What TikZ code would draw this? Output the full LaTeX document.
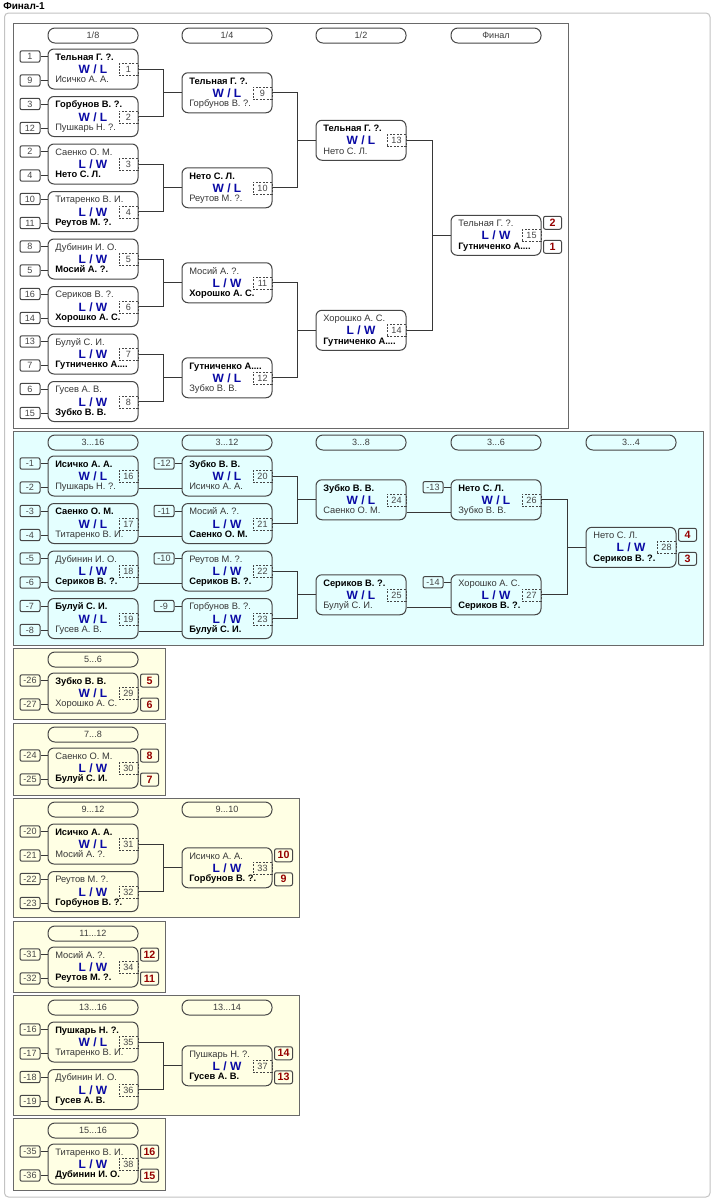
\documentclass[tikz,border=0pt]{standalone}
\usepackage{fontspec}
\setmainfont{Liberation Sans}
\usetikzlibrary{calc}
\definecolor{frm}{RGB}{195,195,195}
\definecolor{grpline}{RGB}{105,105,105}
\definecolor{boxline}{RGB}{70,70,70}
\definecolor{connline}{RGB}{55,55,55}
\definecolor{wintext}{RGB}{0,0,0}
\definecolor{losetext}{RGB}{55,55,55}
\definecolor{wlblue}{RGB}{10,10,165}
\definecolor{numgray}{RGB}{70,70,70}
\definecolor{medalred}{RGB}{150,0,0}
\definecolor{headtext}{RGB}{60,60,60}
\definecolor{cyanbg}{RGB}{228,255,255}
\definecolor{yellowbg}{RGB}{255,255,228}
\newcommand\winf{\bfseries\color{wintext}}
\newcommand\losef{\color{losetext}}
% #1 id, #2 left x, #3 top y, #4 winner (1 top, 2 bottom), #5 top name, #6 bottom name, #7 number
\newcommand\matchbox[7]{%
  \ifnum#4=1 \def\fa{\winf}\def\fb{\losef}\def\wl{W / L}\else\def\fa{\losef}\def\fb{\winf}\def\wl{L / W}\fi
  \node[matchnode] (m#1) at ({#2+45},{#3+20}) {};
  \node[namenode] (m#1t) at ({#2+7},{#3+9}) {\fa #5};
  \node[namenode] (m#1b) at ({#2+7},{#3+31.5}) {\fb #6};
  \node[wlnode] (m#1w) at ({#2+45},{#3+20.5}) {\wl};
  \node[numnode] (m#1k) at ({#2+80.5},{#3+20.5}) {#7};
}
% #1 seed id, #2 match id, #3 y offset, #4 text
\newcommand\seedbox[4]{%
  \node[seednode] (#1) at ($(m#2.north west)+(-17.5,#3)$) {#4};
  \draw[conn] (#1.east) -- (#1.east -| m#2.west);
}
\newcommand\medal[4]{%
  \node[medalnode] (#1) at ($(m#2.north east)+(11,#3)$) {#4};
}
\newcommand\hdr[4]{%
  \node[headnode] (#1) at ({#2+45},{#3+7.5}) {#4};
}
\newcommand\joinm[3]{%
  \coordinate (j#3) at ($(m#3.west)+(-18,0)$);
  \draw[conn] (m#1.east) -| (j#3) |- (m#2.east);
  \draw[conn] (j#3) -- (m#3.west);
}
\newcommand\straight[2]{%
  \draw[conn] ($(m#1.south east)+(0,-8)$) -- ($(m#2.south west)+(0,-8)$);
}
\begin{document}
\begin{tikzpicture}[x=0.75pt,y=-0.75pt,
  matchnode/.style={draw=boxline, line width=0.75pt, rounded corners=4.5pt, minimum width=67.5pt, minimum height=30pt, inner sep=0pt},
  namenode/.style={anchor=west, inner sep=0pt, font=\fontsize{7pt}{7pt}\selectfont, text height=5pt, text depth=1.4pt},
  wlnode/.style={inner sep=0pt, font=\fontsize{9pt}{9pt}\selectfont\bfseries, text=wlblue},
  numnode/.style={draw=boxline, line width=0.6pt, dash pattern=on 1.5pt off 1.1pt, minimum width=14.25pt, minimum height=9pt, inner sep=0pt, font=\fontsize{6.8pt}{7pt}\selectfont, text=numgray},
  seednode/.style={draw=boxline, line width=0.75pt, rounded corners=1.5pt, minimum width=15pt, minimum height=8.6pt, inner sep=0pt, font=\fontsize{6.8pt}{7pt}\selectfont, text=numgray},
  medalnode/.style={draw=boxline, line width=0.75pt, rounded corners=1.5pt, minimum width=13.5pt, minimum height=9.75pt, inner sep=0pt, font=\fontsize{8pt}{8pt}\selectfont\bfseries, text=medalred},
  headnode/.style={draw=boxline, line width=0.75pt, rounded corners=5.2pt, minimum width=67.5pt, minimum height=11.25pt, inner sep=0pt, font=\fontsize{6.8pt}{7pt}\selectfont, text=headtext},
  conn/.style={draw=connline, line width=0.75pt},
  grp/.style={draw=grpline, line width=0.75pt}]
\useasboundingbox (0,0) rectangle (714,1200);
\fill[white] (0,0) rectangle (714,1200);
\draw[draw=frm, line width=0.75pt, rounded corners=3pt] (4.5,13) rectangle (710,1197);
\node[anchor=west, inner sep=0pt, font=\fontsize{7.5pt}{8pt}\selectfont\bfseries] (title) at (3,6) {Финал-1};
% group boxes
\draw[grp, fill=white] (13,23) rectangle (568,428);
\draw[grp, fill=cyanbg] (13,431) rectangle (703,645);
\draw[grp, fill=yellowbg] (13,648) rectangle (165,719);
\draw[grp, fill=yellowbg] (13,723) rectangle (165,795);
\draw[grp, fill=yellowbg] (13,798) rectangle (299,917);
\draw[grp, fill=yellowbg] (13,921) rectangle (165,992);
\draw[grp, fill=yellowbg] (13,995) rectangle (299,1115);
\draw[grp, fill=yellowbg] (13,1118) rectangle (165,1190);
% headers
\hdr{h1}{48}{28}{1/8}
\hdr{h2}{182}{28}{1/4}
\hdr{h3}{316}{28}{1/2}
\hdr{h4}{451}{28}{Финал}
\hdr{h5}{48}{435}{3...16}
\hdr{h6}{182}{435}{3...12}
\hdr{h7}{316}{435}{3...8}
\hdr{h8}{451}{435}{3...6}
\hdr{h9}{586}{435}{3...4}
\hdr{h10}{48}{652}{5...6}
\hdr{h11}{48}{727}{7...8}
\hdr{h12}{48}{802}{9...12}
\hdr{h13}{182}{802}{9...10}
\hdr{h14}{48}{926}{11...12}
\hdr{h15}{48}{1000}{13...16}
\hdr{h16}{182}{1000}{13...14}
\hdr{h17}{48}{1123}{15...16}
% main bracket
\matchbox{1}{48}{49}{1}{Тельная Г. ?.}{Исичко А. А.}{1}
\matchbox{2}{48}{96.5}{1}{Горбунов В. ?.}{Пушкарь Н. ?.}{2}
\matchbox{3}{48}{144}{2}{Саенко О. М.}{Нето С. Л.}{3}
\matchbox{4}{48}{191.5}{2}{Титаренко В. И.}{Реутов М. ?.}{4}
\matchbox{5}{48}{239}{2}{Дубинин И. О.}{Мосий А. ?.}{5}
\matchbox{6}{48}{286.5}{2}{Сериков В. ?.}{Хорошко А. С.}{6}
\matchbox{7}{48}{334}{2}{Булуй С. И.}{Гутниченко А....}{7}
\matchbox{8}{48}{381.5}{2}{Гусев А. В.}{Зубко В. В.}{8}
\matchbox{9}{182}{72.75}{1}{Тельная Г. ?.}{Горбунов В. ?.}{9}
\matchbox{10}{182}{167.75}{1}{Нето С. Л.}{Реутов М. ?.}{10}
\matchbox{11}{182}{262.75}{2}{Мосий А. ?.}{Хорошко А. С.}{11}
\matchbox{12}{182}{357.75}{1}{Гутниченко А....}{Зубко В. В.}{12}
\matchbox{13}{316}{120.25}{1}{Тельная Г. ?.}{Нето С. Л.}{13}
\matchbox{14}{316}{310.25}{2}{Хорошко А. С.}{Гутниченко А....}{14}
\matchbox{15}{451}{215.25}{2}{Тельная Г. ?.}{Гутниченко А....}{15}
\seedbox{s1}{1}{8}{1}\seedbox{s9}{1}{32}{9}
\seedbox{s3}{2}{8}{3}\seedbox{s12}{2}{32}{12}
\seedbox{s2}{3}{8}{2}\seedbox{s4}{3}{32}{4}
\seedbox{s10}{4}{8}{10}\seedbox{s11}{4}{32}{11}
\seedbox{s8}{5}{8}{8}\seedbox{s5}{5}{32}{5}
\seedbox{s16}{6}{8}{16}\seedbox{s14}{6}{32}{14}
\seedbox{s13}{7}{8}{13}\seedbox{s7}{7}{32}{7}
\seedbox{s6}{8}{8}{6}\seedbox{s15}{8}{32}{15}
\joinm{1}{2}{9}
\joinm{3}{4}{10}
\joinm{5}{6}{11}
\joinm{7}{8}{12}
\joinm{9}{10}{13}
\joinm{11}{12}{14}
\joinm{13}{14}{15}
\medal{p2}{15}{8}{2}
\medal{p1}{15}{32}{1}
% consolation
\matchbox{16}{48}{456}{1}{Исичко А. А.}{Пушкарь Н. ?.}{16}
\matchbox{17}{48}{503.5}{1}{Саенко О. М.}{Титаренко В. И.}{17}
\matchbox{18}{48}{551}{2}{Дубинин И. О.}{Сериков В. ?.}{18}
\matchbox{19}{48}{598.5}{1}{Булуй С. И.}{Гусев А. В.}{19}
\matchbox{20}{182}{456}{1}{Зубко В. В.}{Исичко А. А.}{20}
\matchbox{21}{182}{503.5}{2}{Мосий А. ?.}{Саенко О. М.}{21}
\matchbox{22}{182}{551}{2}{Реутов М. ?.}{Сериков В. ?.}{22}
\matchbox{23}{182}{598.5}{2}{Горбунов В. ?.}{Булуй С. И.}{23}
\matchbox{24}{316}{479.75}{1}{Зубко В. В.}{Саенко О. М.}{24}
\matchbox{25}{316}{574.75}{1}{Сериков В. ?.}{Булуй С. И.}{25}
\matchbox{26}{451}{479.75}{1}{Нето С. Л.}{Зубко В. В.}{26}
\matchbox{27}{451}{574.75}{2}{Хорошко А. С.}{Сериков В. ?.}{27}
\matchbox{28}{586}{527.25}{2}{Нето С. Л.}{Сериков В. ?.}{28}
\seedbox{c1}{16}{8}{-1}\seedbox{c2}{16}{32}{-2}
\seedbox{c3}{17}{8}{-3}\seedbox{c4}{17}{32}{-4}
\seedbox{c5}{18}{8}{-5}\seedbox{c6}{18}{32}{-6}
\seedbox{c7}{19}{8}{-7}\seedbox{c8}{19}{32}{-8}
\seedbox{c12}{20}{8}{-12}
\seedbox{c11}{21}{8}{-11}
\seedbox{c10}{22}{8}{-10}
\seedbox{c9}{23}{8}{-9}
\seedbox{c13}{26}{8}{-13}
\seedbox{c14}{27}{8}{-14}
\straight{16}{20}
\straight{17}{21}
\straight{18}{22}
\straight{19}{23}
\straight{24}{26}
\straight{25}{27}
\joinm{20}{21}{24}
\joinm{22}{23}{25}
\joinm{26}{27}{28}
\medal{p4}{28}{8}{4}
\medal{p3}{28}{32}{3}
% 5...6
\matchbox{29}{48}{673}{1}{Зубко В. В.}{Хорошко А. С.}{29}
\seedbox{c26}{29}{8}{-26}\seedbox{c27}{29}{32}{-27}
\medal{p5}{29}{8}{5}\medal{p6}{29}{32}{6}
% 7...8
\matchbox{30}{48}{748}{2}{Саенко О. М.}{Булуй С. И.}{30}
\seedbox{c24}{30}{8}{-24}\seedbox{c25}{30}{32}{-25}
\medal{p8}{30}{8}{8}\medal{p7}{30}{32}{7}
% 9...12
\matchbox{31}{48}{824}{1}{Исичко А. А.}{Мосий А. ?.}{31}
\matchbox{32}{48}{871.5}{2}{Реутов М. ?.}{Горбунов В. ?.}{32}
\matchbox{33}{182}{847.75}{2}{Исичко А. А.}{Горбунов В. ?.}{33}
\seedbox{c20}{31}{8}{-20}\seedbox{c21}{31}{32}{-21}
\seedbox{c22}{32}{8}{-22}\seedbox{c23}{32}{32}{-23}
\joinm{31}{32}{33}
\medal{p10}{33}{8}{10}\medal{p9}{33}{32}{9}
% 11...12
\matchbox{34}{48}{947}{2}{Мосий А. ?.}{Реутов М. ?.}{34}
\seedbox{c31}{34}{8}{-31}\seedbox{c32}{34}{32}{-32}
\medal{p12}{34}{8}{12}\medal{p11}{34}{32}{11}
% 13...16
\matchbox{35}{48}{1022}{1}{Пушкарь Н. ?.}{Титаренко В. И.}{35}
\matchbox{36}{48}{1069.5}{2}{Дубинин И. О.}{Гусев А. В.}{36}
\matchbox{37}{182}{1045.75}{2}{Пушкарь Н. ?.}{Гусев А. В.}{37}
\seedbox{c16}{35}{8}{-16}\seedbox{c17}{35}{32}{-17}
\seedbox{c18}{36}{8}{-18}\seedbox{c19}{36}{32}{-19}
\joinm{35}{36}{37}
\medal{p14}{37}{8}{14}\medal{p13}{37}{32}{13}
% 15...16
\matchbox{38}{48}{1144}{2}{Титаренко В. И.}{Дубинин И. О.}{38}
\seedbox{c35}{38}{8}{-35}\seedbox{c36}{38}{32}{-36}
\medal{p16}{38}{8}{16}\medal{p15}{38}{32}{15}
\end{tikzpicture}
\end{document}
